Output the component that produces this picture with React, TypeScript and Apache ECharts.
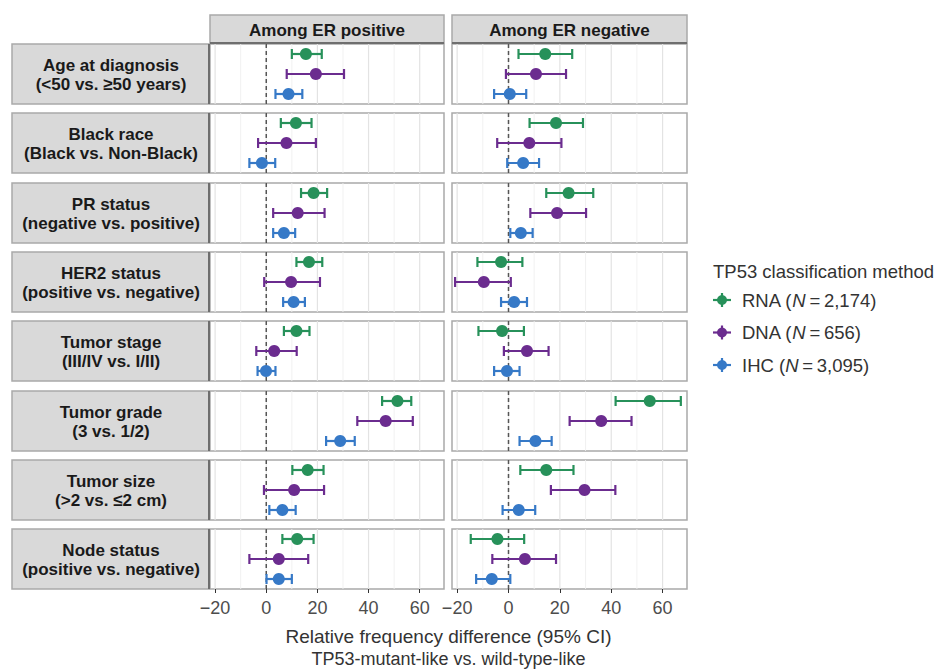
import React, { useEffect, useRef } from "react";
import * as echarts from "echarts";

const rowLabels = [
  "Age at diagnosis\n(<50 vs. ≥50 years)",
  "Black race\n(Black vs. Non-Black)",
  "PR status\n(negative vs. positive)",
  "HER2 status\n(positive vs. negative)",
  "Tumor stage\n(III/IV vs. I/II)",
  "Tumor grade\n(3 vs. 1/2)",
  "Tumor size\n(>2 vs. ≤2 cm)",
  "Node status\n(positive vs. negative)",
];
const colLabels = ["Among ER positive", "Among ER negative"];
const methods = ["RNA", "DNA", "IHC"];
const methodN = ["2,174", "656", "3,095"];
const methodColors = ["#27915a", "#6b2c8f", "#3679c7"];

// [RNA, DNA, IHC] per row
const erPosEst = [[15.5, 19.4, 8.7], [11.6, 7.9, -1.7], [18.5, 12.3, 6.9], [16.7, 9.7, 10.7], [11.8, 3.1, -0.1], [51.3, 46.7, 28.9], [16.2, 10.9, 6.3], [12.1, 4.9, 4.9]];
const erPosLo = [[10, 8, 3.6], [5.7, -3.2, -6.6], [13.6, 2.7, 2.7], [11.8, -0.8, 6.6], [6.9, -3.9, -3.4], [45.3, 35.6, 23.4], [10.2, -0.9, 1.2], [6.3, -6.6, 0.1]];
const erPosHi = [[21.7, 30.4, 14.1], [17.7, 19.4, 3.5], [23.8, 22.8, 11.3], [21.9, 21, 15.1], [16.9, 11.9, 3.6], [56.7, 57.3, 34.6], [22.4, 22.6, 11.5], [18.5, 16.4, 10]];

const erNegEst = [[14.3, 10.7, 0.5], [18.5, 8.1, 5.7], [23.4, 18.9, 4.8], [-2.9, -9.6, 2.2], [-2.5, 7.2, -0.6], [55.0, 36.1, 10.5], [14.7, 29.6, 4.0], [-4.3, 6.4, -6.5]];
const erNegLo = [[3.9, -1.0, -5.6], [8.2, -4.4, -0.5], [14.7, 8.5, 0.7], [-12.1, -20.8, -2.9], [-11.7, -1.8, -5.6], [41.7, 23.8, 4.3], [4.6, 16.5, -2.3], [-14.7, -6.3, -12.6]];
const erNegHi = [[24.8, 22.4, 6.9], [29.0, 20.6, 11.9], [33.0, 30.2, 9.4], [5.4, 0.9, 7.2], [6.0, 15.6, 4.3], [67.1, 47.9, 16.8], [25.3, 41.6, 10.4], [6.1, 18.5, 0.7]];

const xMin = -22;
const xMax = 69.5;
const majorTicks = [-20, 0, 20, 40, 60];
const minorTicks = [-10, 10, 30, 50];

const FONT = "'Liberation Sans', Arial, Helvetica, sans-serif";

export default function App() {
  const ref = useRef<HTMLDivElement>(null);
  useEffect(() => {
    if (!ref.current) return;
    const chart = echarts.init(ref.current, null, { renderer: "svg" });

    const colLeft = [210, 452];
    const colWidth = [234, 235];
    const top0 = 44;
    const pitch = 69.3;
    const panelH = 60;
    const stripTop = 15;
    const stripH = 28;
    const rowStripLeft = 12;

    const grids: any[] = [];
    const xAxes: any[] = [];
    const yAxes: any[] = [];
    const series: any[] = [];
    const graphics: any[] = [];

    const est = [erPosEst, erNegEst];
    const lo = [erPosLo, erNegLo];
    const hi = [erPosHi, erNegHi];

    const gridVals = [...majorTicks, ...minorTicks];

    let gi = 0;
    for (let r = 0; r < rowLabels.length; r++) {
      const top = Math.round(top0 + r * pitch);
      for (let c = 0; c < 2; c++) {
        grids.push({
          left: colLeft[c],
          top,
          width: colWidth[c],
          height: panelH,
          show: true,
          backgroundColor: "#ffffff",
          borderColor: "#a9a9a9",
          borderWidth: 1.5,
        });
        const isBottom = r === rowLabels.length - 1;
        xAxes.push({
          type: "value",
          gridIndex: gi,
          min: xMin,
          max: xMax,
          axisLine: { show: false },
          splitLine: { show: false },
          axisTick: {
            show: isBottom,
            customValues: majorTicks,
            length: 4,
            lineStyle: { color: "#333", width: 1 },
          },
          axisLabel: {
            show: isBottom,
            customValues: majorTicks,
            margin: 10,
            fontSize: 18,
            color: "#4d4d4d",
            fontFamily: FONT,
            formatter: (v: number) => String(v).replace("-", "\u2212"),
          },
        });
        yAxes.push({
          type: "category",
          gridIndex: gi,
          data: methods,
          inverse: true,
          show: false,
        });
        // grid lines + dashed zero line
        series.push({
          type: "custom",
          xAxisIndex: gi,
          yAxisIndex: gi,
          silent: true,
          data: gridVals.map((v) => [v]),
          encode: { x: 0 },
          renderItem: (params: any, api: any) => {
            const v = api.value(0);
            const x = api.coord([v, 0])[0];
            const cs = params.coordSys;
            const isMajor = majorTicks.indexOf(v) >= 0;
            if (v === 0) {
              return {
                type: "group",
                children: [
                  { type: "line", shape: { x1: x, y1: cs.y, x2: x, y2: cs.y + cs.height }, style: { stroke: "#ececec", lineWidth: 1.2 } },
                  { type: "line", shape: { x1: x, y1: cs.y, x2: x, y2: cs.y + cs.height }, style: { stroke: "#555555", lineWidth: 1.5, lineDash: [4, 3] } },
                ],
              };
            }
            return {
              type: "line",
              shape: { x1: x, y1: cs.y, x2: x, y2: cs.y + cs.height },
              style: { stroke: isMajor ? "#e3e3e3" : "#efefef", lineWidth: isMajor ? 1.2 : 0.9 },
            };
          },
        });
        // error bars and points
        const data = methods.map((m, k) => [k, est[c][r][k], lo[c][r][k], hi[c][r][k]]);
        series.push({
          type: "custom",
          xAxisIndex: gi,
          yAxisIndex: gi,
          data,
          encode: { x: [1, 2, 3], y: 0 },
          renderItem: (params: any, api: any) => {
            const k = api.value(0);
            const p = api.coord([api.value(1), k]);
            const pl = api.coord([api.value(2), k]);
            const ph = api.coord([api.value(3), k]);
            const color = methodColors[k];
            const cap = 5;
            return {
              type: "group",
              children: [
                { type: "line", shape: { x1: pl[0], y1: p[1], x2: ph[0], y2: p[1] }, style: { stroke: color, lineWidth: 2.2 } },
                { type: "line", shape: { x1: pl[0], y1: p[1] - cap, x2: pl[0], y2: p[1] + cap }, style: { stroke: color, lineWidth: 2.2 } },
                { type: "line", shape: { x1: ph[0], y1: p[1] - cap, x2: ph[0], y2: p[1] + cap }, style: { stroke: color, lineWidth: 2.2 } },
                { type: "circle", shape: { cx: p[0], cy: p[1], r: 6 }, style: { fill: color } },
              ],
            };
          },
        });
        gi++;
      }
      // row strip
      graphics.push({
        type: "rect",
        shape: { x: rowStripLeft, y: top, width: colLeft[0] - rowStripLeft - 1, height: panelH },
        style: { fill: "#d9d9d9", stroke: "#a9a9a9", lineWidth: 1.5 },
      });
      graphics.push({
        type: "line",
        shape: { x1: colLeft[0] - 1, y1: top, x2: colLeft[0] - 1, y2: top + panelH },
        style: { stroke: "#6e6e6e", lineWidth: 2 },
      });
      graphics.push({
        type: "text",
        x: (rowStripLeft + colLeft[0]) / 2,
        y: top + panelH / 2 + 1,
        style: {
          text: rowLabels[r],
          fontSize: 17,
          fontWeight: "bold",
          fontFamily: FONT,
          fill: "#1a1a1a",
          align: "center",
          verticalAlign: "middle",
          lineHeight: 19,
        },
      });
    }

    // column strips
    for (let c = 0; c < 2; c++) {
      graphics.push({
        type: "rect",
        shape: { x: colLeft[c], y: stripTop, width: colWidth[c], height: stripH },
        style: { fill: "#d9d9d9", stroke: "#a9a9a9", lineWidth: 1.5 },
      });
      graphics.push({
        type: "line",
        shape: { x1: colLeft[c], y1: stripTop + stripH, x2: colLeft[c] + colWidth[c], y2: stripTop + stripH },
        style: { stroke: "#6e6e6e", lineWidth: 2 },
      });
      graphics.push({
        type: "text",
        x: colLeft[c] + colWidth[c] / 2,
        y: stripTop + stripH / 2 + 1,
        style: {
          text: colLabels[c],
          fontSize: 17,
          fontWeight: "bold",
          fontFamily: FONT,
          fill: "#1a1a1a",
          align: "center",
          verticalAlign: "middle",
        },
      });
    }

    // axis title
    const midX = (colLeft[0] + colLeft[1] + colWidth[1]) / 2;
    graphics.push({
      type: "text",
      x: midX,
      y: 636,
      style: { text: "Relative frequency difference (95% CI)", fontSize: 19, fontFamily: FONT, fill: "#333", align: "center", verticalAlign: "middle" },
    });
    graphics.push({
      type: "text",
      x: midX,
      y: 659,
      style: { text: "TP53-mutant-like vs. wild-type-like", fontSize: 18, fontFamily: FONT, fill: "#333", align: "center", verticalAlign: "middle" },
    });

    // legend
    graphics.push({
      type: "text",
      x: 713,
      y: 271,
      style: { text: "TP53 classification method", fontSize: 18.5, fontFamily: FONT, fill: "#333", align: "left", verticalAlign: "middle" },
    });
    methods.forEach((m, k) => {
      const cy = 300 + k * 32.5;
      const cx = 722;
      const color = methodColors[k];
      graphics.push({ type: "line", shape: { x1: cx - 9, y1: cy, x2: cx + 9, y2: cy }, style: { stroke: color, lineWidth: 2.2 } });
      graphics.push({ type: "line", shape: { x1: cx, y1: cy - 7, x2: cx, y2: cy + 7 }, style: { stroke: color, lineWidth: 2.2 } });
      graphics.push({ type: "circle", shape: { cx, cy, r: 5 }, style: { fill: color } });
      graphics.push({
        type: "text",
        x: 742,
        y: cy,
        style: {
          text: `${m} ({i|N}\u2009=\u2009${methodN[k]})`,
          fontSize: 18.5,
          fontFamily: FONT,
          fill: "#333",
          align: "left",
          verticalAlign: "middle",
          rich: { i: { fontStyle: "italic", fontSize: 18.5, fontFamily: FONT, fill: "#333" } },
        },
      });
    });

    chart.setOption({
      animation: false,
      backgroundColor: "#ffffff",
      grid: grids,
      xAxis: xAxes,
      yAxis: yAxes,
      series,
      graphic: graphics,
    });
    return () => chart.dispose();
  }, []);
  return <div ref={ref} style={{ width: 939, height: 670, position: "absolute", left: 0, top: 0 }} />;
}
